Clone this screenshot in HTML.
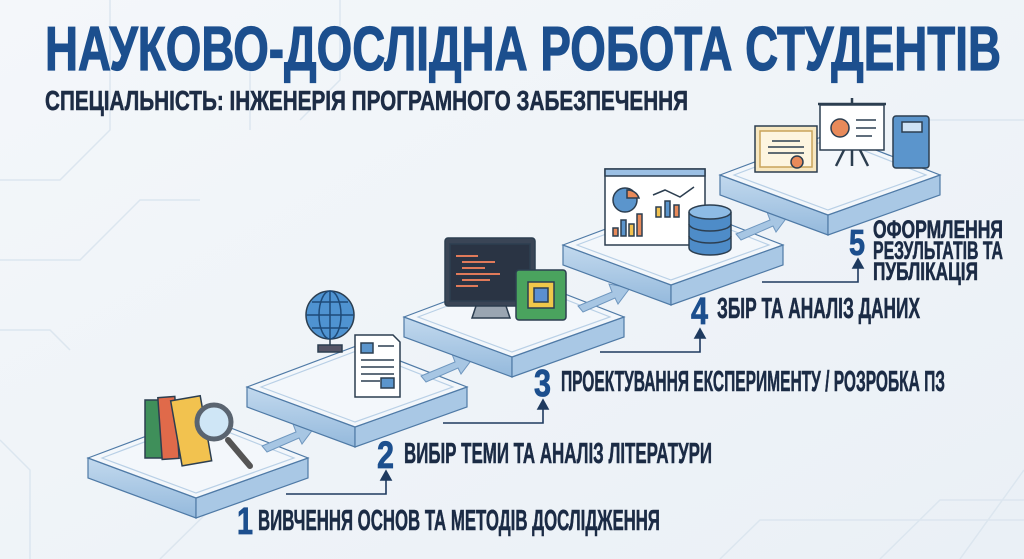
<!DOCTYPE html>
<html><head><meta charset="utf-8"><style>
html,body{margin:0;padding:0;width:1024px;height:559px;overflow:hidden;background:#f1f5f9}
svg{display:block}
text{font-family:"Liberation Sans Narrow","Liberation Sans",sans-serif;font-weight:bold}
</style></head><body>
<svg width="1024" height="559" viewBox="0 0 1024 559" xmlns="http://www.w3.org/2000/svg">
<defs>
<linearGradient id="bg" x1="0" y1="0" x2="1" y2="1"><stop offset="0" stop-color="#f4f7fa"/><stop offset="1" stop-color="#eaf0f6"/></linearGradient>
<linearGradient id="side" x1="0" y1="0" x2="0" y2="1"><stop offset="0" stop-color="#c2d9ee"/><stop offset="1" stop-color="#94b9dc"/></linearGradient>
<g id="plat">
<path d="M0,0 L108,40 L108,60 L0,20 Z" fill="url(#side)" stroke="#4f7aa6" stroke-width="1.2"/>
<path d="M108,40 L220,0 L220,20 L108,60 Z" fill="#a9c8e5" stroke="#4f7aa6" stroke-width="1.2"/>
<path d="M0,0 L112,-42 L220,0 L108,40 Z" fill="#f3f7fb" stroke="#4f7aa6" stroke-width="1.2"/>
<path d="M14,0 L112,-37 L206,0 L108,35 Z" fill="none" stroke="#b9d0e6" stroke-width="1.2"/>
</g>
<g id="arr"><path d="M0,14 L34,0 L31,-8 L52,-4 L40,12 L37,6 L5,20 Z" fill="#a7c6e3" stroke="#6f97bf" stroke-width="1"/></g>
</defs>
<rect width="1024" height="559" fill="url(#bg)"/>
<g stroke="#dce6ef" stroke-width="1.5" fill="none">
<path d="M0,180 L60,180 L110,130 L110,0"/><path d="M0,260 L80,260 L140,200 L200,200"/>
<path d="M30,559 L30,470 L0,440"/><path d="M0,330 L50,330 L70,350"/>
<path d="M880,559 L940,500 L1024,500"/><path d="M960,559 L1024,470"/>
<path d="M930,120 L1024,120"/><path d="M250,130 L250,60"/><path d="M300,120 L340,80 L340,0"/>
<path d="M720,559 L760,520 L1024,520"/><path d="M160,559 L220,500"/>
</g>
<text x="45" y="70" font-size="62" fill="#1c4f8e" stroke="#1c4f8e" stroke-width="1.2" textLength="956" lengthAdjust="spacingAndGlyphs">НАУКОВО-ДОСЛІДНА РОБОТА СТУДЕНТІВ</text>
<text x="45" y="110" font-size="28" fill="#1d2c45" stroke="#1d2c45" stroke-width="0.6" textLength="643" lengthAdjust="spacingAndGlyphs">СПЕЦІАЛЬНІСТЬ: ІНЖЕНЕРІЯ ПРОГРАМНОГО ЗАБЕЗПЕЧЕННЯ</text>

<use href="#plat" x="88" y="458"/>
<use href="#arr" x="262" y="432"/>
<use href="#plat" x="247" y="387"/>
<use href="#arr" x="421" y="362"/>
<use href="#plat" x="404" y="317"/>
<use href="#arr" x="578" y="292"/>
<use href="#plat" x="563" y="245"/>
<use href="#arr" x="736" y="220"/>
<use href="#plat" x="720" y="175"/>

<g stroke="#1e3a5f" stroke-width="1.6" fill="#1e3a5f">
<path d="M286,494 L386,494 L386,478" fill="none"/><path d="M381,480 L386,471 L391,480 Z"/>
<path d="M443,423 L543,423 L543,407" fill="none"/><path d="M538,409 L543,400 L548,409 Z"/>
<path d="M600,352 L700,352 L700,336" fill="none"/><path d="M695,338 L700,329 L705,338 Z"/>
<path d="M762,282 L858,282 L858,266" fill="none"/><path d="M853,268 L858,259 L863,268 Z"/>
</g>
<g fill="#1c4f8e" stroke="#1c4f8e" stroke-width="0.8">
<text x="237" y="534" font-size="38" textLength="16" lengthAdjust="spacingAndGlyphs">1</text>
<text x="377" y="468" font-size="38" textLength="17" lengthAdjust="spacingAndGlyphs">2</text>
<text x="534" y="396" font-size="38" textLength="17" lengthAdjust="spacingAndGlyphs">3</text>
<text x="691" y="324" font-size="38" textLength="17" lengthAdjust="spacingAndGlyphs">4</text>
<text x="849" y="255" font-size="36" textLength="16" lengthAdjust="spacingAndGlyphs">5</text>
</g>
<g fill="#1b2b45" stroke="#1b2b45" stroke-width="0.6">
<text x="258" y="530" font-size="29" textLength="402" lengthAdjust="spacingAndGlyphs">ВИВЧЕННЯ ОСНОВ ТА МЕТОДІВ ДОСЛІДЖЕННЯ</text>
<text x="404" y="463" font-size="29" textLength="308" lengthAdjust="spacingAndGlyphs">ВИБІР ТЕМИ ТА АНАЛІЗ ЛІТЕРАТУРИ</text>
<text x="561" y="391" font-size="29" textLength="384" lengthAdjust="spacingAndGlyphs">ПРОЕКТУВАННЯ ЕКСПЕРИМЕНТУ / РОЗРОБКА ПЗ</text>
<text x="717" y="318" font-size="29" textLength="203" lengthAdjust="spacingAndGlyphs">ЗБІР ТА АНАЛІЗ ДАНИХ</text>
<text x="873" y="238" font-size="25" textLength="130" lengthAdjust="spacingAndGlyphs">ОФОРМЛЕННЯ</text>
<text x="873" y="259" font-size="25" textLength="130" lengthAdjust="spacingAndGlyphs">РЕЗУЛЬТАТІВ ТА</text>
<text x="873" y="280" font-size="25" textLength="105" lengthAdjust="spacingAndGlyphs">ПУБЛІКАЦІЯ</text>
</g>

<g stroke="#2c3e50" stroke-width="1.5">
<rect x="145" y="400" width="17" height="58" fill="#3f8f5a"/>
<rect x="160" y="397" width="17" height="62" fill="#e06a4a" transform="rotate(-4 168 428)"/>
<rect x="176" y="398" width="30" height="66" fill="#f2c24f" transform="rotate(-10 190 430)"/>
<line x1="228" y1="440" x2="250" y2="466" stroke="#555" stroke-width="6" stroke-linecap="round"/>
<circle cx="214" cy="422" r="17" fill="#cfe6f6" stroke="#5a6470" stroke-width="5"/>
</g>
<g stroke="#2c3e50" stroke-width="1.5">
<circle cx="330" cy="315" r="24" fill="#4f93d1"/>
<path d="M306,315 H354 M330,291 V339 M312,302 H348 M312,328 H348" stroke="#1e4a78" fill="none"/>
<ellipse cx="330" cy="315" rx="11" ry="24" fill="none" stroke="#1e4a78"/>
<path d="M318,345 H342 V352 H318 Z M330,339 V345" fill="#556"/>
<path d="M355,335 L393,335 L400,342 L400,397 L355,397 Z" fill="#fff"/>
<rect x="361" y="343" width="12" height="10" fill="#5b95cc"/>
<path d="M378,346 H394 M361,360 H394 M361,367 H394 M361,374 H394 M361,381 H380" fill="none"/>
<rect x="381" y="378" width="13" height="10" fill="#5b95cc"/>
</g>
<g stroke="#2c3e50" stroke-width="1.5">
<rect x="445" y="238" width="90" height="68" rx="3" fill="#3a4556"/>
<rect x="450" y="244" width="80" height="57" fill="#2a3444"/>
<path d="M456,256 H478 M462,262 H495 M462,268 H485 M456,274 H500 M462,280 H490 M456,286 H478" stroke="#e07a5a" stroke-width="2"/>
<path d="M476,306 L472,318 H510 L506,306 Z" fill="#9aa6b2"/>
<rect x="516" y="270" width="50" height="50" rx="3" fill="#4aa35e"/>
<rect x="528" y="282" width="26" height="26" fill="#f0c84a"/>
<rect x="534" y="288" width="14" height="14" fill="#5b8fd0"/>
</g>
<g stroke="#2c3e50" stroke-width="1.5">
<rect x="605" y="169" width="100" height="76" fill="#fff"/>
<rect x="605" y="169" width="100" height="7" fill="#9cc0e4"/>
<circle cx="625" cy="200" r="12" fill="#5b95cc"/>
<path d="M627,190 L627,198 L639,198 A12,12 0 0 0 627,190 Z" fill="#e88a5a"/>
<rect x="613" y="228" width="5" height="8" fill="#e88a5a"/><rect x="621" y="220" width="5" height="16" fill="#5b95cc"/><rect x="629" y="224" width="5" height="12" fill="#f2c24f"/><rect x="637" y="214" width="5" height="22" fill="#e88a5a"/>
<path d="M653,195 L665,190 L680,197 L694,187" fill="none"/>
<rect x="656" y="207" width="5" height="10" fill="#f2c24f"/><rect x="665" y="201" width="5" height="16" fill="#5b95cc"/><rect x="674" y="205" width="5" height="12" fill="#e88a5a"/>
<path d="M689,212 V248 A21,7 0 0 0 731,248 V212" fill="#4e8cc8"/>
<path d="M689,224 A21,7 0 0 0 731,224 M689,236 A21,7 0 0 0 731,236" fill="none"/>
<ellipse cx="710" cy="212" rx="21" ry="7" fill="#8dbbe5"/>
</g>
<g stroke="#2c3e50" stroke-width="1.5">
<rect x="755" y="126" width="62" height="46" fill="#f7e7c0"/>
<rect x="760" y="131" width="52" height="36" fill="#fdf5e0" stroke="#c9a45a"/>
<path d="M772,141 H800 M768,147 H804 M768,153 H804" fill="none"/>
<circle cx="797" cy="162" r="6" fill="#e88a5a"/>
<rect x="820" y="105" width="64" height="45" fill="#fff"/>
<path d="M818,104 H886 M852,98 V104 M844,150 L836,166 M860,150 L868,166 M852,150 V166" fill="none" stroke-width="2.5"/>
<circle cx="840" cy="128" r="9" fill="#e88a5a"/>
<path d="M856,120 H876 M856,128 H876 M856,136 H872" fill="none"/>
<rect x="893" y="116" width="36" height="52" rx="3" fill="#5b95cc"/>
<rect x="902" y="122" width="20" height="10" fill="#cfe3f5"/>
</g>
</svg>
</body></html>
